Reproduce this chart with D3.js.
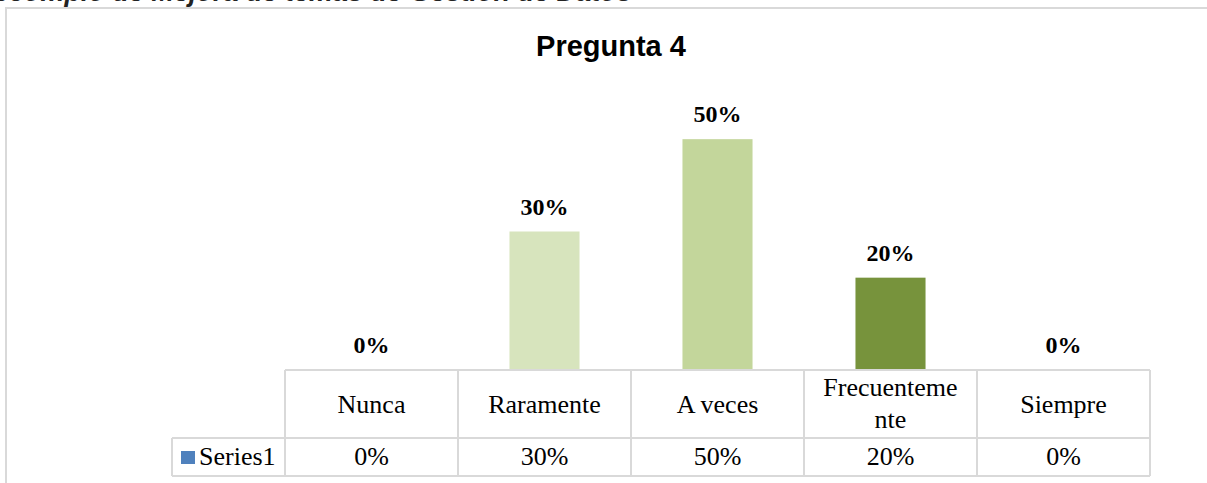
<!DOCTYPE html>
<html>
<head>
<meta charset="utf-8">
<script src="https://cdn.jsdelivr.net/npm/d3@7"></script>
<style>
  html, body { margin: 0; padding: 0; background: #fff; }
  svg { display: block; }
</style>
</head>
<body>
<svg id="chart" width="1207" height="483"></svg>
<script>
// data
var categories = ["Nunca", "Raramente", "A veces", "Frecuentemente", "Siempre"];
var values = [0, 0.3, 0.5, 0.2, 0];
var barColors = ["#4f81bd", "#d7e4bd", "#c3d69b", "#77933c", "#4f81bd"];
var seriesName = "Series1";
var title = "Pregunta 4";

var svg = d3.select("#chart");
var fmt = d3.format(".0%");

// caption from the page above, cut off at the top
svg.append("text")
    .attr("x", -6)
    .attr("y", 1)
    .attr("font-family", "Liberation Sans, Arial, sans-serif")
    .attr("font-style", "italic")
    .attr("font-weight", "bold")
    .attr("font-size", 27)
    .attr("fill", "#222")
    .text("ccomplo de Mejora de temas de Gestión de Datos");

// chart frame
svg.append("rect")
    .attr("x", 6).attr("y", 8)
    .attr("width", 1220).attr("height", 490)
    .attr("fill", "none")
    .attr("stroke", "#d9d9d9")
    .attr("stroke-width", 2);

svg.append("text")
    .attr("x", 611).attr("y", 56)
    .attr("text-anchor", "middle")
    .attr("font-family", "Liberation Sans, Arial, sans-serif")
    .attr("font-weight", "bold")
    .attr("font-size", 29)
    .attr("fill", "#000")
    .text(title);

// scales
var x = d3.scaleBand().domain(categories).range([285, 1150]).padding(0);
var y = d3.scaleLinear().domain([0, 0.6]).range([370, 93]);
var barW = x.bandwidth() * 0.405;

// bars
svg.selectAll("rect.bar")
    .data(categories)
    .enter()
    .append("rect")
    .attr("class", "bar")
    .attr("x", function (d) { return x(d) + (x.bandwidth() - barW) / 2; })
    .attr("y", function (d, i) { return y(values[i]); })
    .attr("width", barW)
    .attr("height", function (d, i) { return y(0) - y(values[i]); })
    .attr("fill", function (d, i) { return barColors[i]; });

// value labels
svg.selectAll("text.lbl")
    .data(categories)
    .enter()
    .append("text")
    .attr("class", "lbl")
    .attr("x", function (d) { return x(d) + x.bandwidth() / 2; })
    .attr("y", function (d, i) { return y(values[i]) - 17; })
    .attr("text-anchor", "middle")
    .attr("font-family", "Liberation Serif, Times New Roman, serif")
    .attr("font-weight", "bold")
    .attr("font-size", 24)
    .text(function (d, i) { return fmt(values[i]); });

// data table under the plot
var rowTop = y(0), rowMid = 438, rowBot = 476, tableLeft = 172;
var grid = svg.append("g")
    .attr("stroke", "#d9d9d9")
    .attr("stroke-width", 2)
    .attr("fill", "none");

grid.append("line").attr("x1", x.range()[0]).attr("x2", x.range()[1]).attr("y1", rowTop).attr("y2", rowTop);
grid.append("line").attr("x1", tableLeft).attr("x2", x.range()[1]).attr("y1", rowMid).attr("y2", rowMid);
grid.append("line").attr("x1", tableLeft).attr("x2", x.range()[1]).attr("y1", rowBot).attr("y2", rowBot);
grid.append("line").attr("x1", tableLeft).attr("x2", tableLeft).attr("y1", rowMid).attr("y2", rowBot);
grid.selectAll("line.col")
    .data(categories.concat(["end"]))
    .enter()
    .append("line")
    .attr("x1", function (d) { return d === "end" ? x.range()[1] : x(d); })
    .attr("x2", function (d) { return d === "end" ? x.range()[1] : x(d); })
    .attr("y1", rowTop)
    .attr("y2", rowBot);

var tableFont = "Liberation Serif, Times New Roman, serif";
var tableSize = 26;

// header cells, long names broken by character like the original
svg.selectAll("text.head")
    .data(categories)
    .enter()
    .append("text")
    .attr("class", "head")
    .attr("text-anchor", "middle")
    .attr("font-family", tableFont)
    .attr("font-size", tableSize)
    .each(function (d) {
        var t = d3.select(this);
        var cx = x(d) + x.bandwidth() / 2;
        var maxW = x.bandwidth() - 32;
        var span = t.append("tspan").attr("x", cx).text(d);
        if (span.node().getComputedTextLength() <= maxW) {
            span.attr("y", 413);
            return;
        }
        var cut = d.length;
        while (cut > 1) {
            span.text(d.slice(0, cut));
            if (span.node().getComputedTextLength() <= maxW) break;
            cut--;
        }
        span.attr("y", 396);
        t.append("tspan").attr("x", cx).attr("y", 428).text(d.slice(cut));
    });

// value cells
svg.selectAll("text.cell")
    .data(categories)
    .enter()
    .append("text")
    .attr("class", "cell")
    .attr("x", function (d) { return x(d) + x.bandwidth() / 2; })
    .attr("y", 465)
    .attr("text-anchor", "middle")
    .attr("font-family", tableFont)
    .attr("font-size", tableSize)
    .text(function (d, i) { return fmt(values[i]); });

// legend key in the first cell
svg.append("rect")
    .attr("x", 181).attr("y", 451)
    .attr("width", 14).attr("height", 13)
    .attr("fill", "#4f81bd");
svg.append("text")
    .attr("x", 199).attr("y", 465)
    .attr("font-family", tableFont)
    .attr("font-size", tableSize)
    .text(seriesName);
</script>
</body>
</html>
